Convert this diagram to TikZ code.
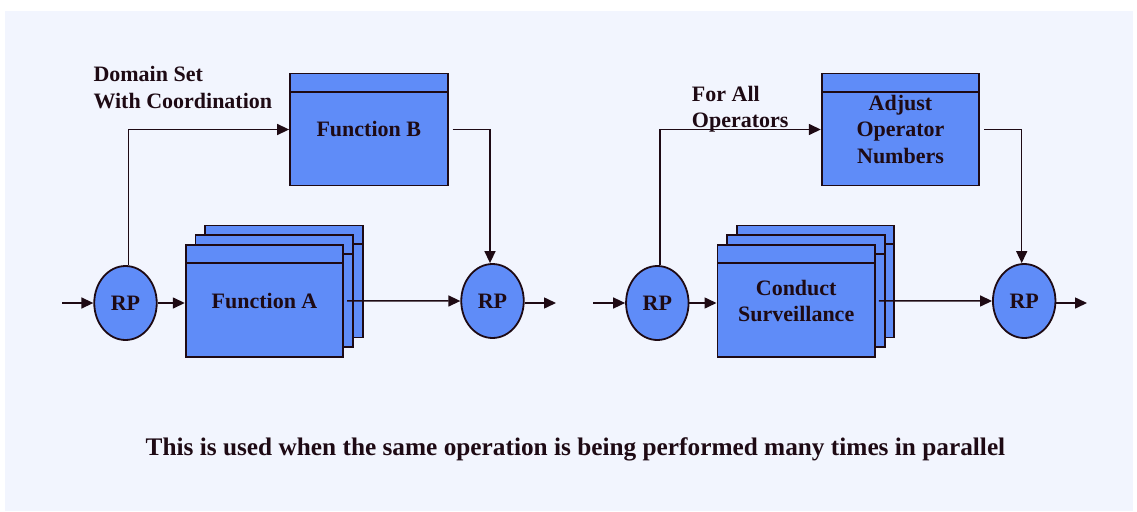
\documentclass[tikz,border=0pt]{standalone}
\usepackage{fontspec}
\setmainfont{Liberation Serif}
\usetikzlibrary{arrows.meta,shapes.geometric}
\definecolor{bgc}{HTML}{F2F5FE}
\definecolor{boxc}{HTML}{5F8CF8}
\definecolor{ink}{HTML}{1E0A14}
\begin{document}
\begin{tikzpicture}[x=1pt,y=-1pt,
  fbox/.style={draw=ink, line width=1.8pt, fill=boxc, minimum width=157.6pt,
    minimum height=112pt, inner sep=0pt, text=ink, align=center,
    font=\fontsize{22}{26.6}\selectfont\bfseries,
    path picture={\draw[ink, line width=1.8pt]
      ([yshift=-18.5pt]path picture bounding box.north west) --
      ([yshift=-18.5pt]path picture bounding box.north east);}},
  rp/.style={ellipse, draw=ink, fill=boxc, line width=1.8pt, minimum width=62.5pt,
    minimum height=74pt, inner sep=0pt, text=ink,
    font=\fontsize{22}{26.6}\selectfont\bfseries},
  lbl/.style={inner sep=0pt, text=ink, align=left,
    font=\fontsize{22}{26.4}\selectfont\bfseries},
  captext/.style={inner sep=0pt, text=ink, font=\fontsize{25.3}{30}\selectfont\bfseries},
  arr/.style={draw=ink, line width=1.5pt, -{Triangle[length=12pt,width=11pt]}}
]
\useasboundingbox (0,0) rectangle (1137,511);
\fill[white] (0,0) rectangle (1137,511);
\fill[bgc] (5,11) rectangle (1133,511);

% ---------- left diagram ----------
\node[rp] (rpa1) at (125.5,303) {RP};
\node[rp] (rpa2) at (492.5,301) {RP};
\node[fbox] (fb) at (368.8,129.5) {Function B};
\node[fbox] (fa3) at (283.8,281.5) {};
\node[fbox] (fa2) at (274.2,291.1) {};
\node[fbox] (fa) at (264.5,300.8) {Function A};
\node[lbl, anchor=north west] (dsl) at (93.3,66.5) {Domain Set\\With Coordination};
\coordinate (ina) at (62,303);
\coordinate (outa) at (556,303);

\draw[arr] (ina) -- (rpa1.west);
\draw[arr] (rpa1.east) -- (fa.west |- rpa1.east);
\draw[arr] ([xshift=3pt]fa.east) -- (rpa2.west);
\draw[arr] (rpa2.east |- outa) -- (outa);
\draw[arr] ([xshift=2.8pt]rpa1.north) |- (fb.west);
\draw[arr] ([xshift=4pt]fb.east) -| ([xshift=-2.5pt]rpa2.north);

% ---------- right diagram ----------
\node[rp] (rpb1) at (657.3,303) {RP};
\node[rp] (rpb2) at (1024.2,301) {RP};
\node[fbox] (adj) at (900.5,129.5) {Adjust\\Operator\\Numbers};
\node[fbox] (cs3) at (815.5,281.5) {};
\node[fbox] (cs2) at (805.9,291.1) {};
\node[fbox] (cs) at (796.2,300.8) {Conduct\\Surveillance};
\node[lbl, anchor=north west] (fal) at (691.7,85.7) {For All\\Operators};
\coordinate (inb) at (593.3,303);
\coordinate (outb) at (1087,303);

\draw[arr] (inb) -- (rpb1.west);
\draw[arr] (rpb1.east) -- (cs.west |- rpb1.east);
\draw[arr] ([xshift=3pt]cs.east) -- (rpb2.west);
\draw[arr] (rpb2.east |- outb) -- (outb);
\draw[arr] ([xshift=2.8pt]rpb1.north) |- (adj.west);
\draw[arr] ([xshift=4pt]adj.east) -| ([xshift=-2.5pt]rpb2.north);

% ---------- caption ----------
\node[captext, anchor=base] (caption) at (575.5,455)
  {This is used when the same operation is being performed many times in parallel};
\end{tikzpicture}
\end{document}
